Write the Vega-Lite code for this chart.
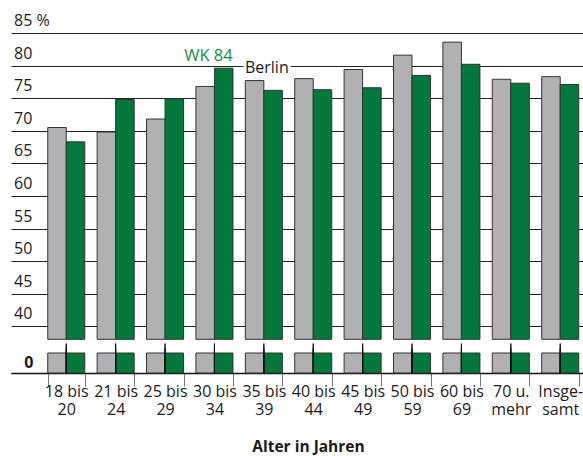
{
  "$schema": "https://vega.github.io/schema/vega-lite/v6.json",
  "autosize": {"type": "none"},
  "padding": {"left": 11, "top": 33, "right": 0, "bottom": 83},
  "width": 572,
  "height": 340,
  "background": "white",
  "config": {
    "font": "Open Sans",
    "view": {"stroke": null}
  },
  "data": {
    "values": [
      {"Alter": "18 bis 20", "Serie": "Berlin", "Wert": 70.5},
      {"Alter": "18 bis 20", "Serie": "WK 84", "Wert": 68.3},
      {"Alter": "21 bis 24", "Serie": "Berlin", "Wert": 69.8},
      {"Alter": "21 bis 24", "Serie": "WK 84", "Wert": 74.8},
      {"Alter": "25 bis 29", "Serie": "Berlin", "Wert": 71.8},
      {"Alter": "25 bis 29", "Serie": "WK 84", "Wert": 74.9},
      {"Alter": "30 bis 34", "Serie": "Berlin", "Wert": 76.8},
      {"Alter": "30 bis 34", "Serie": "WK 84", "Wert": 79.6},
      {"Alter": "35 bis 39", "Serie": "Berlin", "Wert": 77.7},
      {"Alter": "35 bis 39", "Serie": "WK 84", "Wert": 76.2},
      {"Alter": "40 bis 44", "Serie": "Berlin", "Wert": 78.0},
      {"Alter": "40 bis 44", "Serie": "WK 84", "Wert": 76.3},
      {"Alter": "45 bis 49", "Serie": "Berlin", "Wert": 79.4},
      {"Alter": "45 bis 49", "Serie": "WK 84", "Wert": 76.6},
      {"Alter": "50 bis 59", "Serie": "Berlin", "Wert": 81.6},
      {"Alter": "50 bis 59", "Serie": "WK 84", "Wert": 78.5},
      {"Alter": "60 bis 69", "Serie": "Berlin", "Wert": 83.6},
      {"Alter": "60 bis 69", "Serie": "WK 84", "Wert": 80.2},
      {"Alter": "70 u. mehr", "Serie": "Berlin", "Wert": 77.9},
      {"Alter": "70 u. mehr", "Serie": "WK 84", "Wert": 77.3},
      {"Alter": "Insgesamt", "Serie": "Berlin", "Wert": 78.3},
      {"Alter": "Insgesamt", "Serie": "WK 84", "Wert": 77.1}
    ]
  },
  "encoding": {
    "x": {
      "field": "Alter",
      "type": "nominal",
      "sort": null,
      "scale": {"paddingInner": 0.25, "paddingOuter": 0.415, "align": 0.896},
      "axis": {
        "title": "Alter in Jahren",
        "titleFontWeight": "bold",
        "titleFontSize": 15.5,
        "titleColor": "#1a1a1a",
        "titleX": 297,
        "titleY": 78,
        "titleBaseline": "alphabetic",
        "labelAngle": 0,
        "labelFontSize": 16,
        "labelColor": "#1a1a1a",
        "labelLineHeight": 18,
        "labelBaseline": "top",
        "labelPadding": -3,
        "labelOverlap": false,
        "labelExpr": "datum.label == 'Insgesamt' ? ['Insge-', 'samt'] : [slice(datum.label, 0, lastindexof(datum.label, ' ')), slice(datum.label, lastindexof(datum.label, ' ') + 1)]",
        "tickBand": "extent",
        "tickSize": 13,
        "tickColor": "#777777",
        "tickWidth": 1,
        "domainColor": "#111111",
        "domainWidth": 1.5,
        "grid": false
      }
    }
  },
  "layer": [
    {
      "mark": {"type": "bar", "stroke": "#333333", "strokeWidth": 1},
      "encoding": {
        "xOffset": {"field": "Serie", "type": "nominal", "sort": ["Berlin", "WK 84"]},
        "y": {
          "field": "Wert",
          "type": "quantitative",
          "scale": {"domain": [0, 2, 38, 85], "range": [340, 320, 306.3, 0], "nice": false, "zero": false},
          "axis": {
            "title": null,
            "values": [0, 40, 45, 50, 55, 60, 65, 70, 75, 80, 85],
            "tickCount": 20,
            "labelExpr": "datum.value == 85 ? '85 %' : datum.label",
            "labelOverlap": false,
            "domain": false,
            "ticks": false,
            "tickSize": 0,
            "grid": true,
            "gridColor": "#222222",
            "gridWidth": 1,
            "labelFontSize": 16,
            "labelColor": "#1a1a1a",
            "labelAlign": {"condition": {"test": "datum.value == 0", "value": "right"}, "value": "left"},
            "labelBaseline": {"condition": {"test": "datum.value == 0", "value": "middle"}, "value": "alphabetic"},
            "labelFontWeight": {"condition": {"test": "datum.value == 0", "value": "bold"}, "value": "normal"},
            "labelPadding": {"condition": {"test": "datum.value == 0", "value": -22}, "value": -2.5},
            "labelOffset": {"condition": {"test": "datum.value == 0", "value": -11}, "value": -7.5}
          }
        },
        "y2": {"datum": 38},
        "color": {
          "field": "Serie",
          "type": "nominal",
          "scale": {"domain": ["Berlin", "WK 84"], "range": ["#b1b1b4", "#00793a"]},
          "legend": null
        }
      }
    },
    {
      "mark": {"type": "bar", "stroke": "#333333", "strokeWidth": 1},
      "encoding": {
        "xOffset": {"field": "Serie", "type": "nominal", "sort": ["Berlin", "WK 84"]},
        "y": {"datum": 0, "type": "quantitative"},
        "y2": {"datum": 2},
        "color": {"field": "Serie", "type": "nominal", "legend": null}
      }
    },
    {
      "mark": {"type": "rule", "color": "#111111", "strokeWidth": 1},
      "encoding": {"y": {"datum": 26.7, "type": "quantitative"}}
    },
    {
      "mark": {"type": "rule", "color": "#111111", "strokeWidth": 1},
      "encoding": {"y": {"datum": 13.6, "type": "quantitative"}}
    },
    {
      "data": {"values": [{"Alter": "35 bis 39", "Wert": 80, "Text": "Berlin"}]},
      "mark": {"type": "text", "fontSize": 16, "align": "center", "baseline": "middle", "dx": 3, "dy": 2, "stroke": "white", "strokeWidth": 6, "strokeJoin": "round", "fill": "white"},
      "encoding": {
        "y": {"field": "Wert", "type": "quantitative"},
        "text": {"field": "Text"}
      }
    },
    {
      "data": {"values": [{"Alter": "35 bis 39", "Wert": 80, "Text": "Berlin"}]},
      "mark": {"type": "text", "fontSize": 16, "align": "center", "baseline": "middle", "dx": 3, "dy": 2, "color": "#1a1a1a"},
      "encoding": {
        "y": {"field": "Wert", "type": "quantitative"},
        "text": {"field": "Text"}
      }
    },
    {
      "data": {"values": [{"Alter": "30 bis 34", "Serie": "WK 84", "Wert": 80, "Text": "WK 84"}]},
      "mark": {"type": "text", "fontSize": 16.5, "align": "right", "baseline": "alphabetic", "dx": 9, "dy": -5, "color": "#1a8a48"},
      "encoding": {
        "xOffset": {"field": "Serie", "type": "nominal", "sort": ["Berlin", "WK 84"]},
        "y": {"field": "Wert", "type": "quantitative"},
        "text": {"field": "Text"}
      }
    }
  ]
}
